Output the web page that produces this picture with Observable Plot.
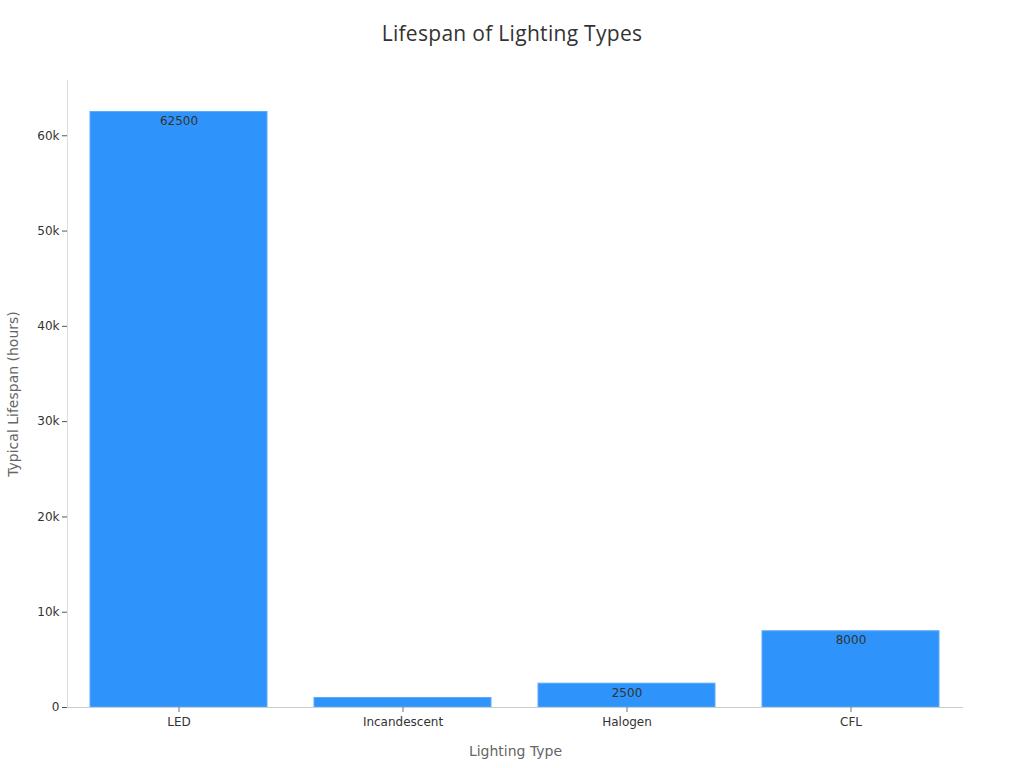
<!DOCTYPE html>
<html>
<head>
<meta charset="utf-8">
<script src="https://cdn.jsdelivr.net/npm/d3@7"></script>
<script src="https://cdn.jsdelivr.net/npm/@observablehq/plot@0.6"></script>
<style>
  body { margin: 0; background: #fff; width: 1024px; height: 768px; overflow: hidden; }
  #title { height: 60px; line-height: 66px; text-align: center; font-family: "Open Sans", "Noto Sans", sans-serif; font-size: 21px; color: #333; letter-spacing: 0.3px; }
  svg { display: block; }
</style>
</head>
<body>
<div id="title">Lifespan of Lighting Types</div>
<div id="chart"></div>
<script>
const categories = ["LED", "Incandescent", "Halogen", "CFL"];
const lifespans = [62500, 1000, 2500, 8000];
const showLabel = [true, false, true, true];
const yTicks = [0, 10000, 20000, 30000, 40000, 50000, 60000];
const yMax = 65800;

const data = categories.map((c, i) => ({type: c, hours: lifespans[i], label: showLabel[i]}));

const chart = Plot.plot({
  width: 1024,
  height: 708,
  marginTop: 20,
  marginBottom: 61,
  marginLeft: 67,
  marginRight: 61,
  style: {fontFamily: "DejaVu Sans, sans-serif", fontSize: "12px", color: "#333", background: "#fff"},
  x: {domain: categories, paddingInner: 0.2, paddingOuter: 0.1, label: null},
  y: {domain: [0, yMax], label: null},
  marks: [
    Plot.barY(data, {x: "type", y: "hours", fill: "#2E93FA", stroke: "#5BAAF9", strokeWidth: 1, insetLeft: 1, insetRight: 1}),
    Plot.text(data.filter(d => d.label), {x: "type", y: "hours", text: d => String(d.hours), dy: 9, fill: "#333", fontSize: 12}),
    Plot.ruleY([0], {stroke: "#ccc"}),
    Plot.frame({anchor: "left", stroke: "#ddd"}),
    Plot.axisY({ticks: yTicks, tickFormat: d => d === 0 ? "0" : (d / 1000) + "k", tickSize: 5, tickPadding: 3, stroke: "#555", fill: "#333", fontSize: 12, label: null}),
    Plot.axisX({tickSize: 5, tickPadding: 5, stroke: "#777", fill: "#333", fontSize: 12, label: null}),
    Plot.text(["Lighting Type"], {frameAnchor: "bottom", textAnchor: "middle", dy: 48, fill: "#666", fontSize: 14}),
    Plot.text(["Typical Lifespan (hours)"], {frameAnchor: "left", textAnchor: "middle", dx: -54, rotate: -90, fill: "#666", fontSize: 14})
  ]
});
document.getElementById("chart").appendChild(chart);
</script>
</body>
</html>
